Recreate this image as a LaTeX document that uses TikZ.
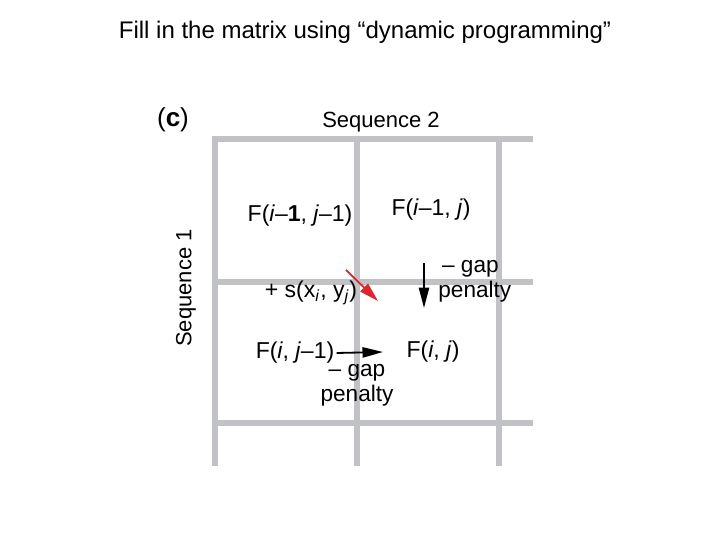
\documentclass[tikz,border=0pt]{standalone}
\usepackage{fontspec}
\setmainfont{Liberation Sans}
\usepackage{tikz}
\usetikzlibrary{arrows.meta,positioning}
\definecolor{gridgray}{RGB}{192,194,197}
\definecolor{diagred}{RGB}{222,38,44}
\tikzset{
  gridline/.style={draw=gridgray,line width=3pt},
  cell/.style={font=\fontsize{11.5}{12.5}\selectfont,inner sep=1pt},
  axislab/.style={font=\fontsize{11}{12}\selectfont,inner sep=1pt},
  gaplab/.style={font=\fontsize{11.3}{12.5}\selectfont,inner sep=0pt},
  moveflow/.style={-{Triangle[length=3.6mm,width=1.8mm]},line width=0.9pt,draw=black},
  matchflow/.style={-{Triangle[length=3.4mm,width=1.9mm]},line width=0.9pt,draw=diagred}
}
\newcommand{\ii}{\textit{i}}
\newcommand{\jj}{\textit{j}}

\begin{document}
\begin{tikzpicture}[x=0.5pt,y=-0.5pt]
  \useasboundingbox (0,0) rectangle (720,540);
  % title
  \node[font=\fontsize{12}{14}\selectfont] (title) at (365,32)
    {Fill in the matrix using “dynamic programming”};
  % grid
  \foreach \gx in {215,357,499}
    \draw[gridline] (\gx,136) -- (\gx,466);
  \foreach \gy in {139,282,423}
    \draw[gridline] (212,\gy) -- (533,\gy);
  \node[font=\fontsize{13}{15}\selectfont] (panel) at (173,120) {(\textbf{c})};
  \node[axislab] (seqtwo) at (381,122) {Sequence 2};
  \node[axislab,rotate=90] (seqone) at (186,288) {Sequence 1};
  % cells
  \node[cell] (diag) at (300,216) {F(\ii–\textbf{1}, \jj–1)};
  \node[cell] (up) at (431,210) {F(\ii–1, \jj)};
  \node[cell] (left) at (295,353) {F(\ii, \jj–1)};
  \node[cell] (here) at (433,352) {F(\ii, \jj)};
  \node[cell] (score) at (311,293) {+ s(x\textsubscript{\ii}, y\textsubscript{\jj})};
  \node[gaplab,align=left,anchor=west] (upgap) at (438,281) {\,– gap\\penalty};
  \node[gaplab,align=center] (leftgap) at (357,385) {– gap\\penalty};
  % moves
  \coordinate (redtail) at (346,270);
  \coordinate (redhead) at (378,301);
  \coordinate (downtail) at (424,263);
  \coordinate (downhead) at (424,308);
  \coordinate (righthead) at (383,352);
  \draw[matchflow] (redtail) -- (redhead);
  \draw[moveflow] (downtail) -- (downhead);
  \draw[moveflow] (left.east) -- (righthead);
\end{tikzpicture}
\end{document}
